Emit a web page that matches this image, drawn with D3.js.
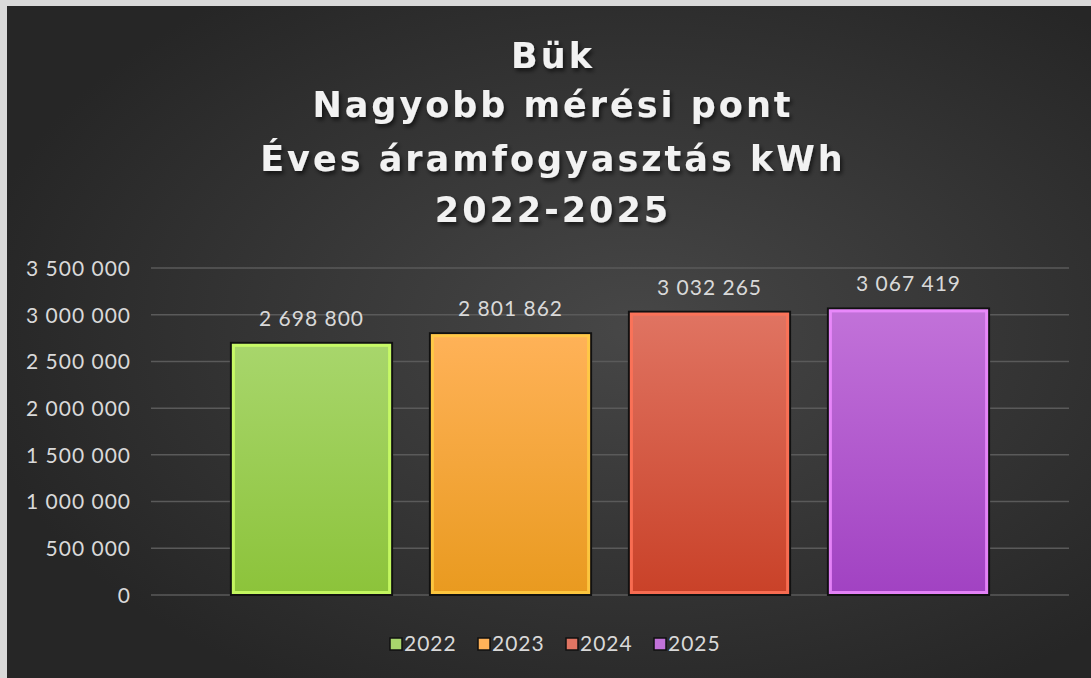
<!DOCTYPE html>
<html><head><meta charset="utf-8">
<script src="https://cdn.jsdelivr.net/npm/d3@7"></script>
<style>html,body{margin:0;padding:0;background:#d9d9d9;overflow:hidden}</style>
</head><body>
<svg id="c" width="1091" height="678"></svg>
<script>
const categories = ["2022","2023","2024","2025"];
const values = [2698800, 2801862, 3032265, 3067419];
const yTicks = [0,500000,1000000,1500000,2000000,2500000,3000000,3500000];
const titleLines = ["Bük","Nagyobb mérési pont","Éves áramfogyasztás kWh","2022-2025"];
const colors = [
  {top:"#a8d66c", bot:"#8cc33a", edge:"#ccff66"},
  {top:"#ffb258", bot:"#e99a1f", edge:"#ffcc44"},
  {top:"#e07462", bot:"#c94128", edge:"#ff7358"},
  {top:"#c272d9", bot:"#a142c2", edge:"#ee8cff"}
];

const svg = d3.select("#c");
const W=1091,H=678;
const defs = svg.append("defs");
const bg = defs.append("radialGradient").attr("id","bg").attr("cx","58%").attr("cy","48%").attr("r","62%");
bg.append("stop").attr("offset","0%").attr("stop-color","#474747");
bg.append("stop").attr("offset","100%").attr("stop-color","#262626");
const sh = defs.append("filter").attr("id","sh").attr("x","-10%").attr("y","-10%").attr("width","120%").attr("height","130%");
sh.append("feDropShadow").attr("dx",2).attr("dy",3).attr("stdDeviation",2).attr("flood-color","#000").attr("flood-opacity",0.6);
colors.forEach((c,i)=>{
  const g = defs.append("linearGradient").attr("id","g"+i).attr("x1",0).attr("y1",0).attr("x2",0).attr("y2",1);
  g.append("stop").attr("offset","0%").attr("stop-color",c.top);
  g.append("stop").attr("offset","100%").attr("stop-color",c.bot);
});

svg.append("rect").attr("x",7).attr("y",6).attr("width",W-7).attr("height",H-6).attr("fill","url(#bg)");

const font = "'Lato','Open Sans',sans-serif";
svg.append("g").selectAll("text").data(titleLines).join("text")
  .attr("x",553).attr("y",(d,i)=>[68,117,171,222][i])
  .attr("text-anchor","middle").attr("fill","#f2f2f2")
  .attr("font-family","'DejaVu Sans',sans-serif").attr("font-weight","bold").attr("font-size",35)
  .attr("letter-spacing",3).attr("filter","url(#sh)").text(d=>d);

const y = d3.scaleLinear().domain([0,3500000]).range([595,268]);
const x = d3.scaleBand().domain(categories).range([212,1008]).paddingInner(0.19).paddingOuter(0.095);
const fmt = v => d3.format(",")(v).replace(/,/g," ");

const grid = svg.append("g");
grid.selectAll("line").data(yTicks).join("line")
  .attr("x1",151).attr("x2",1069).attr("y1",d=>y(d)).attr("y2",d=>y(d))
  .attr("stroke","#5a5a5a").attr("stroke-width",1.5);

const yAxis = d3.axisLeft(y).tickValues(yTicks).tickSize(0).tickPadding(0).tickFormat(fmt);
const ya = svg.append("g").attr("transform","translate(131,0)").call(yAxis);
ya.select(".domain").remove();
ya.selectAll("text").attr("fill","#d9d9d9").attr("font-family",font).attr("font-size",21)
  .attr("letter-spacing",1).attr("dy","0.35em");

const bars = svg.append("g").selectAll("g").data(categories).join("g");
bars.append("rect")
  .attr("x",d=>x(d)).attr("y",(d,i)=>y(values[i])).attr("width",x.bandwidth())
  .attr("height",(d,i)=>y(0)-y(values[i])).attr("fill",(d,i)=>`url(#g${i})`)
  .attr("stroke","#111").attr("stroke-width",2);
bars.append("rect")
  .attr("x",d=>x(d)+2.5).attr("y",(d,i)=>y(values[i])+2.5).attr("width",x.bandwidth()-5)
  .attr("height",(d,i)=>y(0)-y(values[i])-5).attr("fill","none")
  .attr("stroke",(d,i)=>colors[i].edge).attr("stroke-width",3).attr("stroke-opacity",0.85);

svg.append("g").selectAll("text").data(categories).join("text")
  .attr("x",d=>x(d)+x.bandwidth()/2).attr("y",(d,i)=>y(values[i])-17)
  .attr("text-anchor","middle").attr("fill","#d9d9d9").attr("font-family",font).attr("font-size",21)
  .attr("letter-spacing",1).text((d,i)=>fmt(values[i]));

const leg = svg.append("g");
const legX = [390,478,566,654];
const li = leg.selectAll("g").data(categories).join("g").attr("transform",(d,i)=>`translate(${legX[i]},644)`);
li.append("rect").attr("x",0).attr("y",-6).attr("width",12).attr("height",12)
  .attr("fill",(d,i)=>colors[i].top).attr("stroke","#111").attr("stroke-width",1.5);
li.append("text").attr("x",14).attr("y",0).attr("dy","0.35em").attr("fill","#d9d9d9")
  .attr("font-family",font).attr("font-size",21).attr("letter-spacing",1).text(d=>d);
</script>
</body></html>
